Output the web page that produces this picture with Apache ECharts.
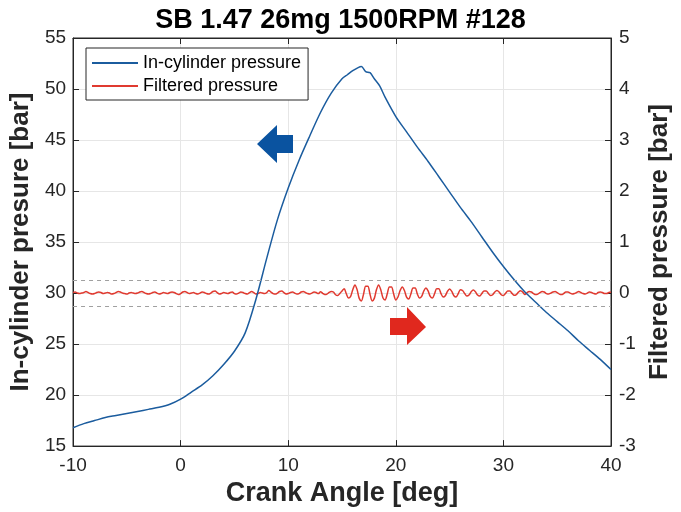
<!DOCTYPE html>
<html>
<head>
<meta charset="utf-8">
<script src="https://cdn.jsdelivr.net/npm/echarts@6/dist/echarts.min.js"></script>
<style>
html,body{margin:0;padding:0;background:#fff;}
#chart{width:681px;height:512px;}
</style>
</head>
<body>
<div id="chart"></div>
<script>
// ---- data ----
var titleText = 'SB 1.47 26mg 1500RPM #128';
var xTicks = [-10, 0, 10, 20, 30, 40];
var leftTicks = [15, 20, 25, 30, 35, 40, 45, 50, 55];
var rightTicks = [-3, -2, -1, 0, 1, 2, 3, 4, 5];
var bandLimits = [0.25, -0.25];

var pressureAngle = [-10,-9,-8,-7,-6,-5,-4,-3,-2,-1,0,1,2,3,4,5,6,7,8,9,10,11,12,13,14,15,15.5,16,16.5,16.8,17.2,17.6,18,18.5,19,20,21,22,23,24,25,26,27,28,29,30,31,32,33,34,35,36,37,38,39,40];
var pressureValue = [16.8,17.2,17.5,17.8,18.0,18.2,18.4,18.6,18.8,19.1,19.6,20.3,21.0,21.9,23.0,24.3,26.1,29.4,33.4,37.2,40.3,43.0,45.4,47.7,49.6,51.0,51.4,51.8,52.1,52.2,51.7,51.6,51.0,50.3,49.2,47.3,45.8,44.3,42.9,41.4,39.9,38.4,37.0,35.5,34.0,32.6,31.3,30.1,29.1,28.1,27.2,26.3,25.3,24.4,23.5,22.5];

// filtered pressure sampled every 0.2 deg from -10 to 40
var filteredStart = -10, filteredStep = 0.2;
var filteredValue = [
 0.01, 0.02, 0.00, -0.01, 0.00, 0.01, 0.03, 0.01, -0.01, -0.02,
 -0.01, 0.01, 0.02, 0.01, -0.01, 0.00, 0.01, 0.00, -0.02, -0.01,
 0.01, 0.03, 0.02, 0.00, -0.01, -0.02, 0.00, 0.01, 0.00, -0.01,
 0.00, 0.02, 0.03, 0.01, -0.01, -0.02, -0.01, 0.01, 0.02, 0.00,
 -0.02, -0.01, 0.01, 0.00, -0.01, 0.01, 0.02, 0.01, -0.01, -0.03,
 -0.01, 0.02, 0.03, 0.01, -0.01, 0.00, 0.01, -0.01, -0.02, 0.00,
 0.02, 0.01, -0.01, -0.02, 0.00, 0.03, 0.04, 0.01, -0.02, -0.01,
 0.01, 0.00, -0.01, 0.01, 0.02, -0.01, -0.02, 0.00, 0.02, 0.01,
 -0.01, -0.02, 0.01, 0.03, 0.01, -0.02, -0.01, 0.01, 0.00, -0.01,
 0.01, 0.05, 0.02, -0.01, -0.02, 0.00, 0.03, 0.04, 0.01, -0.02,
 -0.01, 0.01, 0.02, 0.00, -0.02, -0.01, 0.02, 0.03, 0.01, -0.01,
 -0.02, 0.00, 0.02, 0.01, -0.01,
 0.025, -0.004, -0.029, -0.02, 0.012, 0.03, 0.021, -0.033, -0.048, -0.007,
 0.042, 0.084, -0.014, -0.096, -0.065, 0.066, 0.16, 0.067, -0.104, -0.154,
 -0.022, 0.134, 0.134, -0.022, -0.154, -0.104, 0.066, 0.16, 0.067, -0.091,
 -0.134, -0.02, 0.118, 0.118, -0.02, -0.134, -0.078, 0.049, 0.12, 0.05,
 -0.078, -0.115, -0.017, 0.10, 0.10, -0.017, -0.096, -0.065, 0.041, 0.10,
 0.042, -0.065, -0.096, -0.014, 0.084, 0.084, -0.011, -0.077, -0.052, 0.033,
 0.08, 0.034, -0.052, -0.077, -0.011, 0.067, 0.05, -0.008, -0.058, -0.039,
 0.025, 0.06, 0.025, -0.039, -0.058, -0.008, 0.042, 0.042, -0.007, -0.048,
 -0.033, 0.021, 0.05, 0.021, -0.033, -0.048, -0.006, 0.038, 0.038, -0.006,
 -0.043, -0.029, 0.018, 0.045, 0.019, -0.029,
 0.01, 0.03, 0.02, -0.01, -0.03, -0.02, 0.01, 0.03, 0.02, -0.01,
 -0.02, 0.00, 0.02, 0.03, 0.01, -0.02, -0.03, -0.01, 0.02, 0.02,
 0.00, -0.02, -0.01, 0.01, 0.03, 0.01, -0.01, -0.02, 0.00, 0.02,
 0.01, -0.01, -0.02, 0.01, 0.02, 0.01, -0.01, -0.01, 0.01, 0.02
];

// ---- build ----
var pressureData = pressureAngle.map(function (a, i) { return [a, pressureValue[i]]; });
var filteredData = filteredValue.map(function (v, i) {
  return [Math.round((filteredStart + filteredStep * i) * 10) / 10, v];
});

var FONT = '"Liberation Sans", Arial, sans-serif';
var AX = '#262626';

var chart = echarts.init(document.getElementById('chart'), null, {renderer: 'canvas'});
var option = {
  backgroundColor: '#fff',
  animation: false,
  title: {
    text: titleText, left: 'center', top: 2,
    textStyle: {fontFamily: FONT, fontWeight: 'bold', fontSize: 27, color: '#000'}
  },
  legend: {
    left: 86, top: 48, orient: 'vertical',
    backgroundColor: '#fff', borderColor: AX, borderWidth: 1,
    padding: [5, 7, 4, 6], itemGap: 3,
    itemWidth: 46, itemHeight: 2, icon: 'rect',
    textStyle: {fontFamily: FONT, fontSize: 18, color: '#000', lineHeight: 20},
    data: ['In-cylinder pressure', 'Filtered pressure']
  },
  grid: {left: 69, right: 64, top: 38, bottom: 64, show: true, borderColor: AX, borderWidth: 1, containLabel: false},
  xAxis: [{
    type: 'value', min: -10, max: 40, interval: 10,
    name: 'Crank Angle [deg]', nameLocation: 'middle', nameGap: 30,
    nameTextStyle: {fontFamily: FONT, fontWeight: 'bold', fontSize: 27, color: AX},
    axisLine: {show: true, onZero: false, lineStyle: {color: AX, width: 1}},
    axisTick: {show: true, inside: true, length: 6, lineStyle: {color: AX}},
    axisLabel: {fontFamily: FONT, fontSize: 19, color: AX, margin: 10},
    splitLine: {show: true, lineStyle: {color: '#e6e6e6', width: 1}}
  }, {
    type: 'value', min: -10, max: 40, interval: 10, position: 'top',
    axisLine: {show: true, onZero: false, lineStyle: {color: AX, width: 1}},
    axisTick: {show: true, inside: true, length: 6, lineStyle: {color: AX}},
    axisLabel: {show: false}, splitLine: {show: false}
  }],
  yAxis: [{
    type: 'value', min: 15, max: 55, interval: 5, position: 'left',
    name: 'In-cylinder presure [bar]', nameLocation: 'middle', nameGap: 32, nameRotate: 90,
    nameTextStyle: {fontFamily: FONT, fontWeight: 'bold', fontSize: 26, color: AX},
    axisLine: {show: true, onZero: false, lineStyle: {color: AX, width: 1}},
    axisTick: {show: true, inside: true, length: 6, lineStyle: {color: AX}},
    axisLabel: {fontFamily: FONT, fontSize: 19, color: AX, margin: 7},
    splitLine: {show: true, lineStyle: {color: '#e6e6e6', width: 1}}
  }, {
    type: 'value', min: -3, max: 5, interval: 1, position: 'right',
    name: 'Filtered pressure [bar]', nameLocation: 'middle', nameGap: 36, nameRotate: 90,
    nameTextStyle: {fontFamily: FONT, fontWeight: 'bold', fontSize: 26, color: AX},
    axisLine: {show: true, onZero: false, lineStyle: {color: AX, width: 1}},
    axisTick: {show: true, inside: true, length: 6, lineStyle: {color: AX}},
    axisLabel: {fontFamily: FONT, fontSize: 19, color: AX, margin: 8},
    splitLine: {show: false}
  }],
  series: [{
    name: 'Filtered pressure', type: 'line', xAxisIndex: 0, yAxisIndex: 1,
    data: filteredData, showSymbol: false, smooth: 0.3,
    lineStyle: {color: '#e03a30', width: 1.5}, itemStyle: {color: '#e03a30'},
    z: 2,
    markLine: {
      silent: true, symbol: 'none', label: {show: false},
      lineStyle: {color: '#a0a0a0', type: [4, 4], width: 1},
      data: bandLimits.map(function (b) { return {yAxis: b}; })
    }
  }, {
    name: 'In-cylinder pressure', type: 'line', xAxisIndex: 0, yAxisIndex: 0,
    data: pressureData, showSymbol: false, smooth: 0.3,
    lineStyle: {color: '#1b5c9e', width: 1.5}, itemStyle: {color: '#1b5c9e'},
    z: 3
  }],
  graphic: [{
    type: 'polygon', z: 100,
    shape: {points: [[257,144],[277,125],[277,135],[293,135],[293,153],[277,153],[277,163]]},
    style: {fill: '#0a53a0'}
  }, {
    type: 'polygon', z: 100,
    shape: {points: [[426,327],[407,307],[407,318],[390,318],[390,335],[407,335],[407,345]]},
    style: {fill: '#e0281e'}
  }]
};
chart.setOption(option);
</script>
</body>
</html>
